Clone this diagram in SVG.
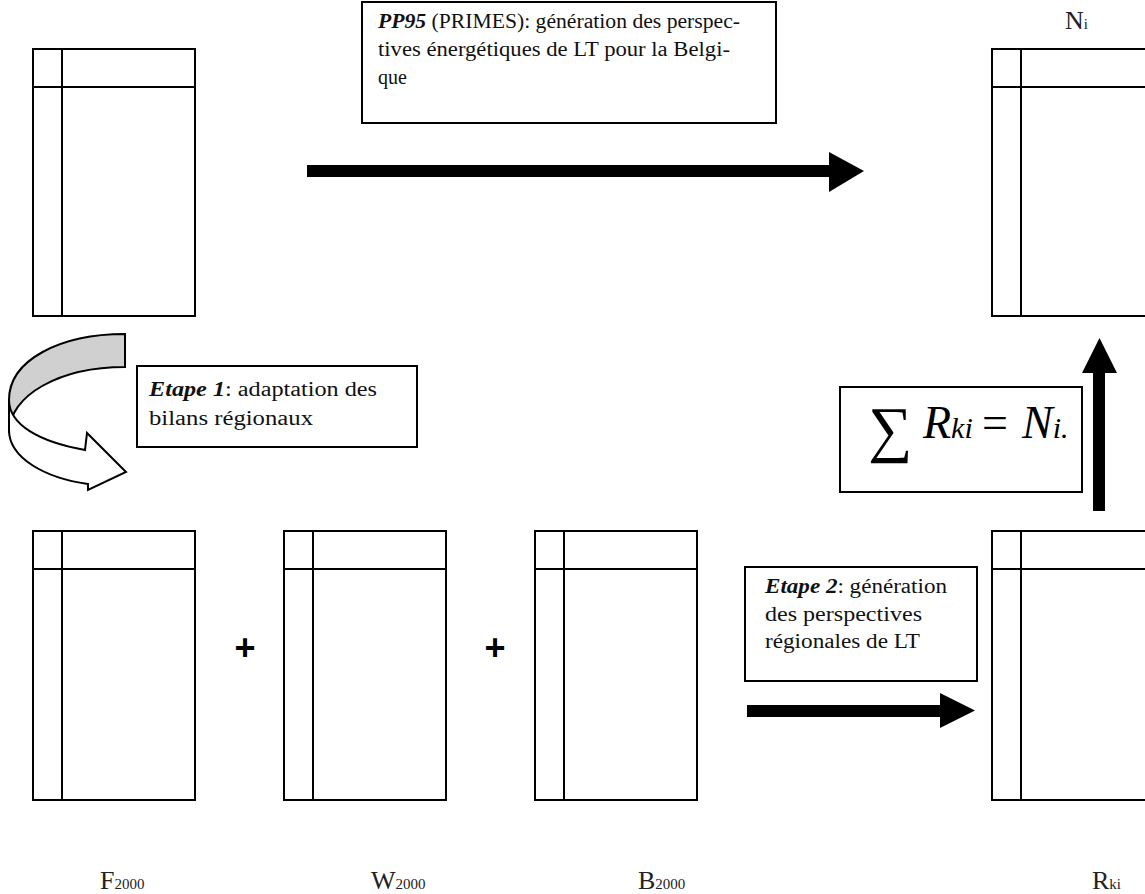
<svg xmlns="http://www.w3.org/2000/svg" width="1145" height="894" viewBox="0 0 1145 894">
  <style>
    .tbl { fill: #ffffff; stroke: #000000; stroke-width: 2; }
    .ln { stroke: #000000; stroke-width: 2; fill: none; }
    .box { fill: #ffffff; stroke: #000000; stroke-width: 2; }
    .txt { font-family: "Liberation Serif", "DejaVu Serif", serif; font-size: 20px; fill: #111111; }
    .lbl { font-family: "Liberation Serif", "DejaVu Serif", serif; font-size: 26px; fill: #222222; }
    .sub { font-size: 15px; }
    .plus { font-family: "Liberation Sans", Arial, sans-serif; font-size: 36px; font-weight: bold; fill: #000000; }
    .arrow { fill: #000000; stroke: none; }
    .math { font-family: "Liberation Serif", "DejaVu Serif", serif; fill: #000000; }
  </style>
  <rect width="1145" height="894" fill="#ffffff"/>

  <g id="table-top-left">
    <rect class="tbl" x="33" y="49" width="162" height="267"/>
    <line class="ln" x1="33" y1="87" x2="195" y2="87"/>
    <line class="ln" x1="62" y1="49" x2="62" y2="316"/>
  </g>

  <g id="table-Ni">
    <rect class="tbl" x="992" y="49" width="162" height="267"/>
    <line class="ln" x1="992" y1="87" x2="1154" y2="87"/>
    <line class="ln" x1="1021" y1="49" x2="1021" y2="316"/>
    <text class="lbl" x="1065" y="29">N<tspan class="sub">i</tspan></text>
  </g>

  <g id="table-F2000">
    <rect class="tbl" x="33" y="531" width="162" height="269"/>
    <line class="ln" x1="33" y1="569" x2="195" y2="569"/>
    <line class="ln" x1="62" y1="531" x2="62" y2="800"/>
    <text class="lbl" x="100" y="889">F<tspan class="sub">2000</tspan></text>
  </g>

  <g id="table-W2000">
    <rect class="tbl" x="284" y="531" width="162" height="269"/>
    <line class="ln" x1="284" y1="569" x2="446" y2="569"/>
    <line class="ln" x1="313" y1="531" x2="313" y2="800"/>
    <text class="lbl" x="371" y="889">W<tspan class="sub">2000</tspan></text>
  </g>

  <g id="table-B2000">
    <rect class="tbl" x="535" y="531" width="162" height="269"/>
    <line class="ln" x1="535" y1="569" x2="697" y2="569"/>
    <line class="ln" x1="564" y1="531" x2="564" y2="800"/>
    <text class="lbl" x="638" y="889">B<tspan class="sub">2000</tspan></text>
  </g>

  <g id="table-Rki">
    <rect class="tbl" x="992" y="531" width="162" height="269"/>
    <line class="ln" x1="992" y1="569" x2="1154" y2="569"/>
    <line class="ln" x1="1021" y1="531" x2="1021" y2="800"/>
    <text class="lbl" x="1092" y="889">R<tspan class="sub">ki</tspan></text>
  </g>

  <g id="operators">
    <text class="plus" x="245" y="660" text-anchor="middle">+</text>
    <text class="plus" x="495" y="660" text-anchor="middle">+</text>
  </g>

  <g id="box-pp95">
    <rect class="box" x="362" y="2" width="414" height="121"/>
    <text class="txt" x="378" y="28" textLength="362" lengthAdjust="spacingAndGlyphs"><tspan font-weight="bold" font-style="italic">PP95</tspan> (PRIMES): génération des perspec-</text>
    <text class="txt" x="378" y="56" textLength="352" lengthAdjust="spacingAndGlyphs">tives énergétiques de LT pour la Belgi-</text>
    <text class="txt" x="378" y="84">que</text>
  </g>

  <g id="box-etape1">
    <rect class="box" x="137" y="366" width="280" height="81"/>
    <text class="txt" x="149" y="396" textLength="228" lengthAdjust="spacingAndGlyphs"><tspan font-weight="bold" font-style="italic">Etape 1</tspan>: adaptation des</text>
    <text class="txt" x="149" y="425" textLength="164" lengthAdjust="spacingAndGlyphs">bilans régionaux</text>
  </g>

  <g id="box-etape2">
    <rect class="box" x="745" y="567" width="232" height="114"/>
    <text class="txt" x="765" y="593" textLength="182" lengthAdjust="spacingAndGlyphs"><tspan font-weight="bold" font-style="italic">Etape 2</tspan>: génération</text>
    <text class="txt" x="765" y="621" textLength="157" lengthAdjust="spacingAndGlyphs">des perspectives</text>
    <text class="txt" x="765" y="648" textLength="155" lengthAdjust="spacingAndGlyphs">régionales de LT</text>
  </g>

  <g id="box-sum">
    <rect class="box" x="840" y="387" width="242" height="105"/>
    <text class="math" x="868" y="450" font-size="62">∑</text>
    <text class="math" x="923" y="438" font-size="46" font-style="italic">R<tspan font-size="30">ki</tspan></text>
    <text class="math" x="982" y="438" font-size="46">=</text>
    <text class="math" x="1022" y="438" font-size="46" font-style="italic">N<tspan font-size="30">i.</tspan></text>
  </g>

  <g id="connectors">
    <polygon class="arrow" points="307,165 829,165 829,152 864,171 829,192 829,177 307,177"/>
    <polygon class="arrow" points="747,705 940,705 940,693 975,710.5 940,728 940,717 747,717"/>
    <polygon class="arrow" points="1093,511 1093,373 1082,373 1099.5,338 1117,373 1105,373 1105,511"/>
    <g id="curved-arrow" stroke="#000000" stroke-width="2" stroke-linejoin="miter">
      <path d="M125,334 C60,334 9,360 9,400 L9,433 C9,395 60,367 125,367 Z" fill="#d0d0d0"/>
      <path d="M9,400 L9,430 C9,458 45,478 88,484 L88,490 L126,472 L87,433 L85,450 C40,442 9,425 9,400 Z" fill="#ffffff"/>
    </g>
  </g>
</svg>
